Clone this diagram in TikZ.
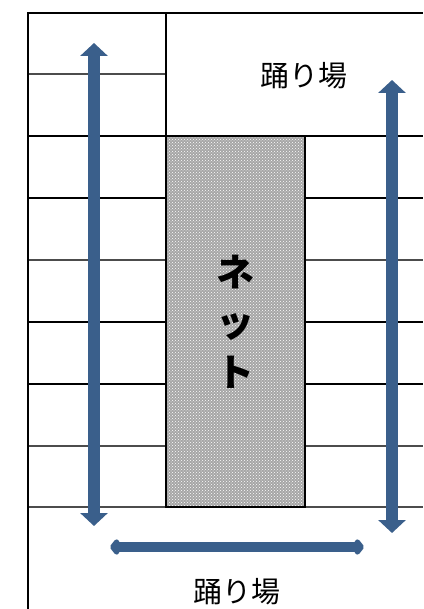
\documentclass[tikz,border=0pt]{standalone}
\usepackage{fontspec}
\newfontfamily\jpfont{Noto Sans CJK JP}
\usepackage{tikz}
\usetikzlibrary{patterns, arrows.meta}
\definecolor{arrowblue}{RGB}{58,95,139}

\begin{document}
\begin{tikzpicture}[x=1pt, y=-1pt,
    frameline/.style={line width=2pt, black},
    stepline/.style={line width=1.6pt, black},
    thinline/.style={line width=1.3pt, black!70},
    netbox/.style={draw, line width=1.6pt, minimum width=139pt, minimum height=371pt,
        preaction={fill=gray!70}, pattern=crosshatch dots, pattern color=white,
        align=center, font=\jpfont\bfseries\fontsize{38}{50}\selectfont},
    landing/.style={font=\jpfont\fontsize{29}{32}\selectfont},
    flow/.style={line width=12pt, arrowblue,
        {Triangle[width=27pt, length=13pt]}-{Triangle[width=27pt, length=13pt]}},
    turn/.style={line width=10pt, arrowblue,
        {Kite[width=20pt, length=12pt, inset=4pt, round]}-{Kite[width=20pt, length=12pt, inset=4pt, round]}}]
    \useasboundingbox (0,0) rectangle (423,609);

    % Left flight
    \foreach \y in {136,198,322,384} \draw[stepline] (28,\y) -- (166,\y);
    \foreach \y in {74,260,446,507} \draw[thinline] (28,\y) -- (166,\y);

    % Right flight
    \foreach \y in {136,198,322,384} \draw[stepline] (305,\y) -- (423,\y);
    \foreach \y in {260,446,507} \draw[thinline] (305,\y) -- (423,\y);

    % Outer walls
    \draw[frameline] (28,609) -- (28,13) -- (423,13);
    \draw[stepline] (166,13) -- (166,136);

    % Net in the well
    \node[netbox] (net) at (235.5,321.5) {ネ\\ッ\\ト};

    % Landings
    \node[landing] (upper) at (304,76) {踊り場};
    \node[landing] (lower) at (237,592) {踊り場};

    % Directions of travel
    \coordinate (ltop) at (94,43);
    \coordinate (lbot) at (94,526);
    \coordinate (rtop) at (392,80);
    \coordinate (rbot) at (392,533);
    \coordinate (bleft) at (110,547);
    \coordinate (bright) at (364,547);
    \draw[flow] (ltop) -- (lbot);
    \draw[flow] (rtop) -- (rbot);
    \draw[turn] (bleft) -- (bright);
\end{tikzpicture}
\end{document}
